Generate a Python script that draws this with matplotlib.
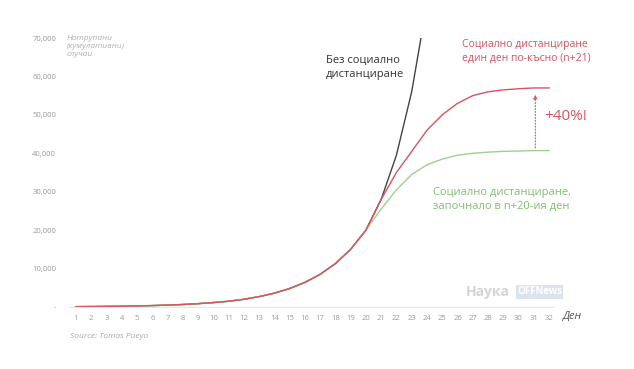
import matplotlib
matplotlib.use('Agg')
import matplotlib.pyplot as plt

plt.rcParams['font.family'] = ['Open Sans', 'DejaVu Sans']

days = list(range(1, 33))
# common exponential part, days 1..20
base = [90, 120, 160, 210, 280, 370, 490, 650, 870, 1150,
        1500, 2000, 2700, 3600, 4800, 6400, 8500, 11300, 15000, 20000]
no_dist_days = [20, 21, 22, 23, 24]
no_dist = [20000, 28000, 39500, 56000, 79000]
late = [28000, 35000, 40500, 46000, 50000, 53000, 55000, 56000, 56500, 56800, 57000, 57000]
early = [25500, 30500, 34500, 37000, 38500, 39500, 40000, 40300, 40500, 40600, 40700, 40700]

red = '#d9535f'
green = '#9fcf8f'
black = '#444444'
gray = '#9a9a9a'

fig = plt.figure(figsize=(6.34, 3.69), dpi=100)
ax = fig.add_axes([70 / 634, 1 - 307 / 369, 483 / 634, 269 / 369])

ax.plot(days[:20] + no_dist_days[1:], base + no_dist[1:], color=black, linewidth=1.0)
ax.plot(days[:20] + days[20:], base + early, color=green, linewidth=1.0)
ax.plot(days[:20] + days[20:], base + late, color=red, linewidth=1.0)

ax.set_xlim(0.61, 32.26)
ax.set_ylim(0, 70000)

for s in ['top', 'right', 'left']:
    ax.spines[s].set_visible(False)
ax.spines['bottom'].set_color('#e6e6e6')
ax.spines['bottom'].set_linewidth(0.8)

ax.set_xticks(days)
ax.set_xticklabels([str(d) for d in days])
yt = list(range(0, 70001, 10000))
ax.set_yticks(yt)
ax.set_yticklabels(['-' if v == 0 else f'{v:,}' for v in yt])
ax.tick_params(axis='both', length=0, labelsize=5.5, colors=gray)
ax.tick_params(axis='x', pad=6)
ax.tick_params(axis='y', pad=10)

fig.text(67 / 634, 1 - 35 / 369, 'Натрупани\n(кумулативни)\nслучаи', color='#b0b0b0', fontsize=6,
         style='italic', va='top', ha='left', linespacing=1.2)

ax.text(17.4, 62300, 'Без социално\nдистанциране', color='#333333', fontsize=8,
        va='center', ha='left', linespacing=1.3)
ax.text(26.3, 66500, 'Социално дистанциране\nедин ден по-късно (n+21)', color=red, fontsize=7.5,
        va='center', ha='left', linespacing=1.3)
ax.text(24.4, 28000, 'Социално дистанциране,\nзапочнало в n+20-ия ден', color='#7fbf6f', fontsize=8,
        va='center', ha='left', linespacing=1.3)

ax.annotate('', xy=(31.1, 56000), xytext=(31.1, 40700),
            arrowprops=dict(arrowstyle='-|>', color=red, linestyle=':', linewidth=0.8,
                            mutation_scale=6))
ax.text(31.7, 49500, '+40%!', color=red, fontsize=11, va='center', ha='left')

fig.text(563 / 634, 1 - 316 / 369, 'Ден', color='#555555', fontsize=8, style='italic', va='center')
fig.text(70 / 634, 1 - 337 / 369, 'Source: Tomas Pueyo', color='#aaaaaa', fontsize=6,
         style='italic', va='center')

fig.text(466 / 634, 1 - 292 / 369, 'Наука', color='#d4d4d4', fontsize=10, weight='bold', va='center')
fig.text(517 / 634, 1 - 292 / 369, 'OFFNews', color='white', fontsize=7, weight='bold', va='center',
         bbox=dict(boxstyle='square,pad=0.15', fc='#dde3ec', ec='none'))

fig.savefig('out.png', dpi=100, facecolor='white')
